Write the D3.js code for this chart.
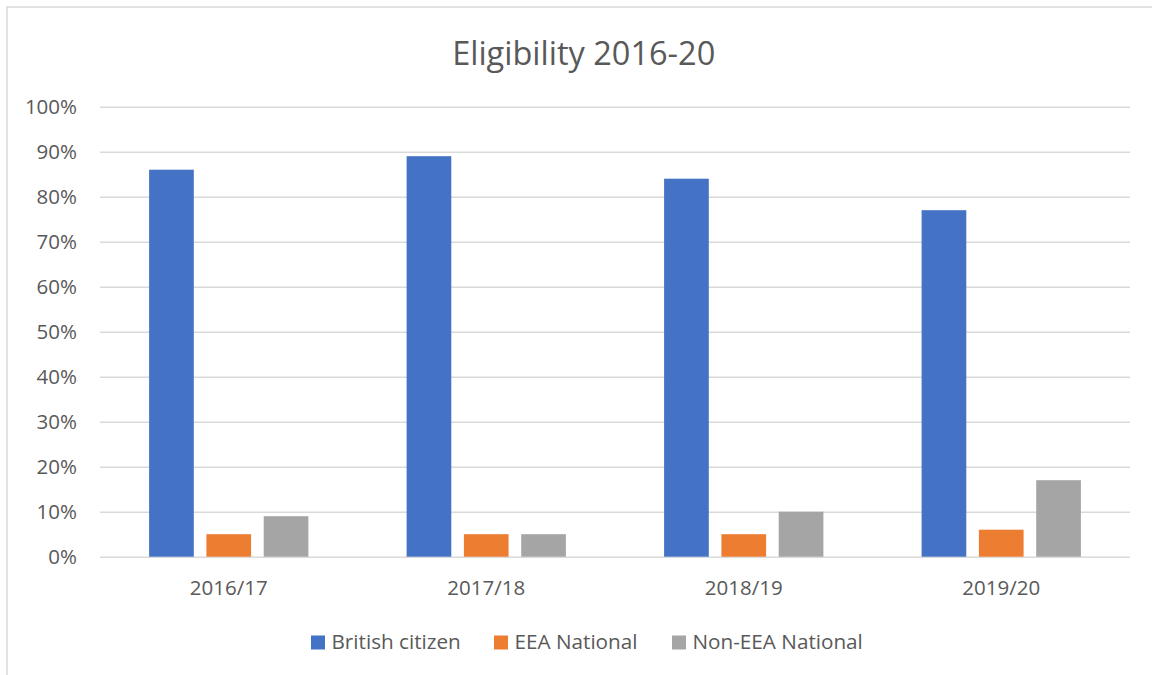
<!DOCTYPE html>
<html>
<head>
<meta charset="utf-8">
<script src="https://cdn.jsdelivr.net/npm/d3@7"></script>
<style>
  html, body { margin: 0; padding: 0; background: #ffffff; }
  svg { display: block; font-family: "Open Sans", "Noto Sans", sans-serif; }
</style>
</head>
<body>
<svg id="chart" width="1152" height="675"></svg>
<script>
// Share of applicants by eligibility status, per academic year
const categories = ["2016/17", "2017/18", "2018/19", "2019/20"];
const seriesNames = ["British citizen", "EEA National", "Non-EEA National"];
const britishCitizen = [0.86, 0.89, 0.84, 0.77];
const eeaNational = [0.05, 0.05, 0.05, 0.06];
const nonEeaNational = [0.09, 0.05, 0.10, 0.17];
const seriesColors = ["#4472c4", "#ed7d31", "#a5a5a5"];
const yTicks = [0, 0.1, 0.2, 0.3, 0.4, 0.5, 0.6, 0.7, 0.8, 0.9, 1.0];
const titleText = "Eligibility 2016-20";

const seriesValues = [britishCitizen, eeaNational, nonEeaNational];

const svg = d3.select("#chart");
const textColor = "#595959";
const gridColor = "#d9d9d9";

// Outer chart frame
svg.append("rect")
  .attr("x", 7).attr("y", 7)
  .attr("width", 1160).attr("height", 680)
  .attr("fill", "#ffffff")
  .attr("stroke", gridColor)
  .attr("stroke-width", 1.5);

const plot = { left: 100, right: 1130, top: 106.7, bottom: 556.7 };

const y = d3.scaleLinear().domain([0, 1]).range([plot.bottom, plot.top]);
const x0 = d3.scaleBand().domain(categories).range([plot.left, plot.right]).padding(0);
const x1 = d3.scaleBand().domain(seriesNames).range([0, x0.bandwidth()])
  .paddingInner(0.22).paddingOuter(0.857);

// Title
svg.append("text")
  .attr("x", 583.7).attr("y", 65)
  .attr("text-anchor", "middle")
  .attr("fill", textColor)
  .attr("font-size", 32.5)
  .text(titleText);

// Gridlines and y labels
const yAxis = d3.axisLeft(y)
  .tickValues(yTicks)
  .tickSize(-(plot.right - plot.left))
  .tickPadding(23)
  .tickFormat(d3.format(".0%"));

const gy = svg.append("g")
  .attr("transform", `translate(${plot.left},0)`)
  .call(yAxis);
gy.select(".domain").remove();
gy.selectAll(".tick line").attr("stroke", gridColor).attr("stroke-width", 1.5);
gy.selectAll(".tick text")
  .attr("fill", textColor)
  .attr("font-size", 20.5)
  .attr("font-family", "Open Sans, Noto Sans, sans-serif");

// Bars
const groups = svg.append("g").selectAll("g")
  .data(categories)
  .join("g")
  .attr("transform", d => `translate(${x0(d)},0)`);

groups.selectAll("rect")
  .data((c, i) => seriesNames.map((s, k) => ({ s, k, v: seriesValues[k][i] })))
  .join("rect")
  .attr("x", d => x1(d.s))
  .attr("width", x1.bandwidth())
  .attr("y", d => y(d.v))
  .attr("height", d => y(0) - y(d.v))
  .attr("fill", d => seriesColors[d.k]);

// Category axis labels
const xAxis = d3.axisBottom(x0).tickSize(0).tickPadding(24);
const gx = svg.append("g")
  .attr("transform", `translate(0,${plot.bottom})`)
  .call(xAxis);
gx.select(".domain").remove();
gx.selectAll(".tick text")
  .attr("fill", textColor)
  .attr("font-size", 20.5)
  .attr("font-family", "Open Sans, Noto Sans, sans-serif");

// Legend
const legendX = [311, 494, 672];
const legend = svg.append("g").selectAll("g")
  .data(seriesNames)
  .join("g")
  .attr("transform", (d, i) => `translate(${legendX[i]},635.5)`);
legend.append("rect")
  .attr("width", 14).attr("height", 14)
  .attr("fill", (d, i) => seriesColors[i]);
legend.append("text")
  .attr("x", 20.5).attr("y", 13.5)
  .attr("fill", textColor)
  .attr("font-size", 20.7)
  .text(d => d);
</script>
</body>
</html>
